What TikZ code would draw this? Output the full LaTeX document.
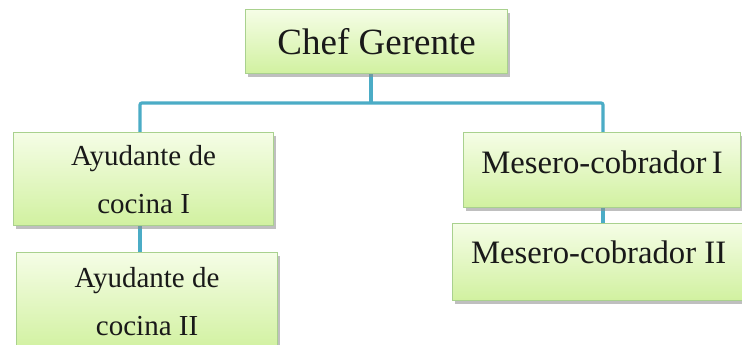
\documentclass[tikz,border=0pt]{standalone}
\usepackage{fontspec}
\setmainfont{Liberation Serif}
\usetikzlibrary{shadows,backgrounds}
\definecolor{boxtop}{HTML}{F5FDE6}
\definecolor{boxbot}{HTML}{D1F1A0}
\definecolor{boxline}{HTML}{A9D18E}
\definecolor{conn}{HTML}{4BACC6}
\tikzset{
  orgbox/.style={draw=boxline, line width=1.2pt, top color=boxtop, bottom color=boxbot,
    inner sep=0pt, anchor=north west, align=center, text=black!90,
    drop shadow={shadow xshift=2.5pt, shadow yshift=-3pt, fill=black!45, opacity=.55}},
  link/.style={draw=conn, line width=3.2pt}
}
\begin{document}
\begin{tikzpicture}[x=1pt,y=-1pt]
\clip (0,0) rectangle (742,345);
\node[orgbox, minimum width=262pt, minimum height=64pt,
      font=\fontsize{37}{44}\selectfont] (chef) at (245,9) {Chef Gerente};
\node[orgbox, minimum width=260pt, minimum height=93pt,
      font=\fontsize{29}{48}\selectfont] (a1) at (13,132) {Ayudante de\\cocina I};
\node[orgbox, minimum width=261pt, minimum height=98pt,
      font=\fontsize{29}{48}\selectfont] (a2) at (16,252) {Ayudante de\\cocina II};
\node[orgbox, minimum width=277pt, text height=41pt, text depth=34pt,
      font=\fontsize{32.7}{40}\selectfont] (m1) at (463,132) {Mesero-cobrador\,I};
\node[orgbox, minimum width=292pt, text height=40pt, text depth=37pt,
      font=\fontsize{32.7}{40}\selectfont] (m2) at (452,223) {Mesero-cobrador II};
\coordinate (jc) at (371,103);
\coordinate (jL) at (140,103);
\coordinate (jR) at (603,103);
\begin{scope}[on background layer]
\fill[white] (0,0) rectangle (742,345);
\draw[link] (chef.south -| jc) -- (jc);
\draw[link, rounded corners=2pt] (a1.north -| jL) -- (jL) -- (jR) -- (m1.north -| jR);
\draw[link] (a1.south -| jL) -- (a2.north -| jL);
\draw[link] (m1.south -| jR) -- (m2.north -| jR);
\end{scope}
\end{tikzpicture}
\end{document}
